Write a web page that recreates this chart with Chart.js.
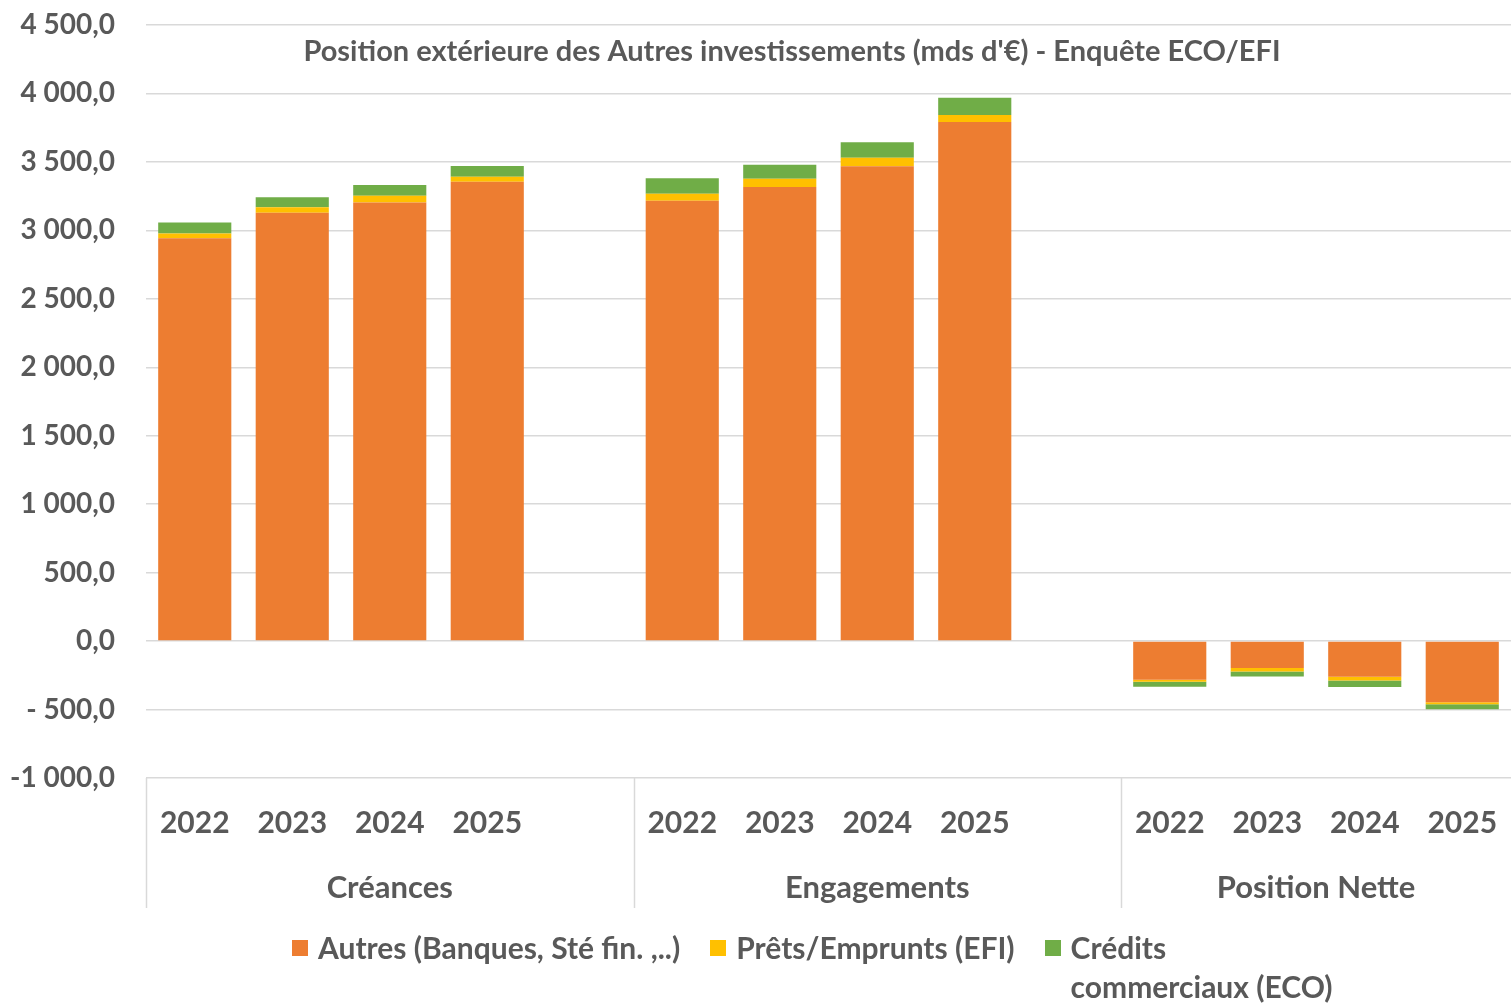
<!DOCTYPE html>
<html>
<head>
<meta charset="utf-8">
<script src="https://cdn.jsdelivr.net/npm/chart.js@4"></script>
<style>
  body { margin: 0; background: #fff; }
  #wrap { position: relative; width: 1511px; height: 1003px; }
  #legend { position: absolute; left: 292px; top: 928px; display: flex; align-items: flex-start;
            font-family: Lato, sans-serif; font-weight: bold; font-size: 30px; color: #595959; line-height: 39px; }
  .item { display: flex; align-items: flex-start; margin-right: 30px; }
  .box { width: 16px; height: 16px; margin-top: 12px; margin-right: 10px; flex: none; }
  .txt { white-space: pre-line; }
</style>
</head>
<body>
<div id="wrap">
  <canvas id="chart" width="1511" height="1003"></canvas>
  <div id="legend"></div>
</div>
<script>
// données
const labels = ['2022', '2023', '2024', '2025', '', '2022', '2023', '2024', '2025', '', '2022', '2023', '2024', '2025']
const groups = ['Créances', 'Engagements', 'Position Nette']
const groupStarts = [0, 5, 10]

const autres = [2943, 3128, 3204, 3355, null, 3216, 3316, 3468, 3792, null, -282, -197, -261, -446]
const prets = [34, 40, 49, 37, null, 51, 61, 63, 51, null, -15, -26, -26, -15]
const credits = [81, 73, 78, 78, null, 113, 103, 112, 125, null, -36, -36, -49, -37]

const seriesNames = ['Autres (Banques, Sté fin. ,..)', 'Prêts/Emprunts (EFI)', 'Crédits\ncommerciaux (ECO)']
const seriesColors = ['#ED7D31', '#FFC000', '#70AD47']

const titre = "Position extérieure des Autres investissements (mds d'€) - Enquête ECO/EFI"

const GRAY = '#595959'
Chart.defaults.font.family = 'Lato, sans-serif'
Chart.defaults.font.weight = 'bold'
Chart.defaults.color = GRAY

const fmt = (v) => {
  const a = Math.abs(v)
  const s = a.toFixed(1).replace('.', ',').replace(/\B(?=(\d{3})+(?!\d))/g, ' ')
  if (v < 0) return (a < 1000 ? '- ' : '-') + s
  return s
}

// titre, séparateurs et noms de groupes
const groupPlugin = {
  id: 'groupPlugin',
  afterDraw(chart) {
    const { ctx, chartArea, scales: { x } } = chart
    const half = (x.getPixelForValue(1) - x.getPixelForValue(0)) / 2
    ctx.save()
    ctx.strokeStyle = '#d9d9d9'
    ctx.lineWidth = 1.5
    ctx.fillStyle = GRAY
    ctx.font = 'bold 31px Lato, sans-serif'
    ctx.textAlign = 'center'
    ctx.textBaseline = 'middle'
    groupStarts.forEach((start, i) => {
      const end = i < groupStarts.length - 1 ? groupStarts[i + 1] : labels.length
      const left = x.getPixelForValue(start) - half
      const right = Math.min(x.getPixelForValue(end - 1) + half, chart.width)
      ctx.beginPath()
      ctx.moveTo(Math.round(left) + 0.5, chartArea.bottom)
      ctx.lineTo(Math.round(left) + 0.5, chartArea.bottom + 130)
      ctx.stroke()
      ctx.fillText(groups[i], (left + right) / 2, chartArea.bottom + 110)
    })
    ctx.font = 'bold 29px Lato, sans-serif'
    ctx.fillText(titre, 792, chartArea.top + 27)
    ctx.restore()
  }
}

const datasets = [autres, prets, credits].map((d, i) => ({
  label: seriesNames[i],
  data: d,
  backgroundColor: seriesColors[i],
  barPercentage: 0.75,
  categoryPercentage: 1
}))

new Chart(document.getElementById('chart'), {
  type: 'bar',
  data: { labels: labels, datasets: datasets },
  plugins: [groupPlugin],
  options: {
    responsive: false,
    animation: false,
    layout: { padding: { top: 25, right: -5, bottom: 95, left: 0 } },
    plugins: { legend: { display: false }, tooltip: { enabled: false } },
    scales: {
      x: {
        stacked: true,
        grid: { display: false },
        border: { display: false },
        ticks: { font: { size: 30, weight: 'bold' }, color: GRAY, padding: 19, maxRotation: 0, autoSkip: false },
        afterFit: (s) => { s.height = 130; s.paddingLeft = 0; s.paddingRight = 0 }
      },
      y: {
        stacked: true,
        min: -1000,
        max: 4500,
        ticks: { stepSize: 500, callback: fmt, padding: 31, font: { size: 28, weight: 'bold' }, color: GRAY },
        grid: { color: '#d9d9d9', lineWidth: 1.5, drawTicks: false },
        border: { display: false },
        afterFit: (s) => { s.width = 146; s.paddingTop = 0; s.paddingBottom = 0 }
      }
    }
  }
})

// légende
const legend = document.getElementById('legend')
seriesNames.forEach((name, i) => {
  const item = document.createElement('div')
  item.className = 'item'
  item.innerHTML = `<span class="box" style="background:${seriesColors[i]}"></span><span class="txt">${name}</span>`
  legend.appendChild(item)
})
</script>
</body>
</html>
